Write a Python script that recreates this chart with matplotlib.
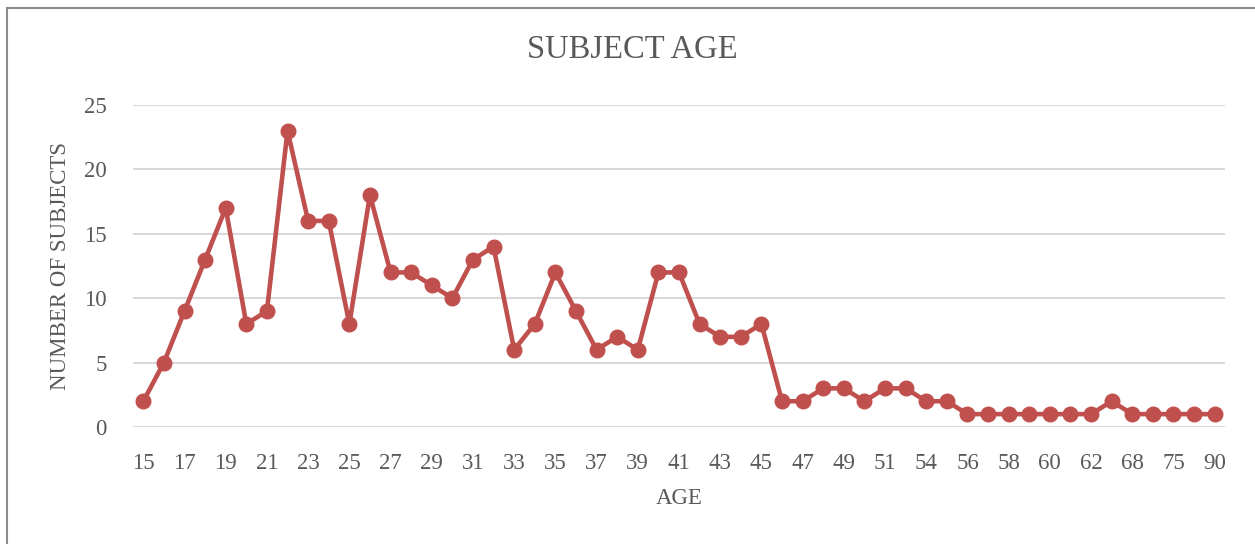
import matplotlib.pyplot as plt
from matplotlib.patches import Rectangle

ages = ['15', '16', '17', '18', '19', '20', '21', '22', '23', '24', '25', '26', '27', '28',
        '29', '30', '31', '32', '33', '34', '35', '36', '37', '38', '39', '40', '41', '42',
        '43', '44', '45', '46', '47', '48', '49', '50', '51', '53', '54', '55', '56', '57',
        '58', '59', '60', '61', '62', '65', '68', '70', '75', '80', '90']
counts = [2, 5, 9, 13, 17, 8, 9, 23, 16, 16, 8, 18, 12, 12,
          11, 10, 13, 14, 6, 8, 12, 9, 6, 7, 6, 12, 12, 8,
          7, 7, 8, 2, 2, 3, 3, 2, 3, 3, 2, 2, 1, 1,
          1, 1, 1, 1, 1, 2, 1, 1, 1, 1, 1]
yticks = [0, 5, 10, 15, 20, 25]

plt.rcParams['font.family'] = ['Liberation Serif', 'DejaVu Serif']
txt = '#595959'

fig = plt.figure(figsize=(12.55, 5.44), dpi=100)
# chart border (only left and top visible in the crop)
fig.patches.append(Rectangle((7 / 1255, -0.5), 2.0, 1.5 - 9 / 544 + 0.002,
                             transform=fig.transFigure, fill=False,
                             edgecolor='#8c8c8c', linewidth=1.5))

ax = fig.add_axes([133 / 1255, 1 - 427 / 544, (1225 - 133) / 1255, (427 - 105) / 544])
x = list(range(len(ages)))
ax.plot(x, counts, color='#C0504D', linewidth=3.3, marker='o', markersize=10.5,
        solid_joinstyle='round', zorder=3)

ax.set_xlim(-0.5, len(ages) - 0.5)
ax.set_ylim(0, 25)
ax.set_yticks(yticks)
ax.set_xticks(x[::2])
ax.set_xticklabels(ages[::2])
ax.grid(axis='y', color='#D9D9D9', linewidth=1.5)
ax.set_axisbelow(True)
for s in ax.spines.values():
    s.set_visible(False)
ax.tick_params(length=0, labelsize=16.5, colors=txt)
ax.tick_params(axis='x', pad=19)
ax.tick_params(axis='y', pad=19)

ax.set_xlabel('AGE', fontsize=16.5, color=txt, labelpad=10)
ax.set_ylabel('NUMBER OF SUBJECTS', fontsize=16.5, color=txt, labelpad=9)
fig.text(632 / 1255, 1 - 50 / 544, 'SUBJECT AGE', fontsize=23.5, color=txt,
         ha='center', va='center')

fig.savefig('out.png', dpi=100)
